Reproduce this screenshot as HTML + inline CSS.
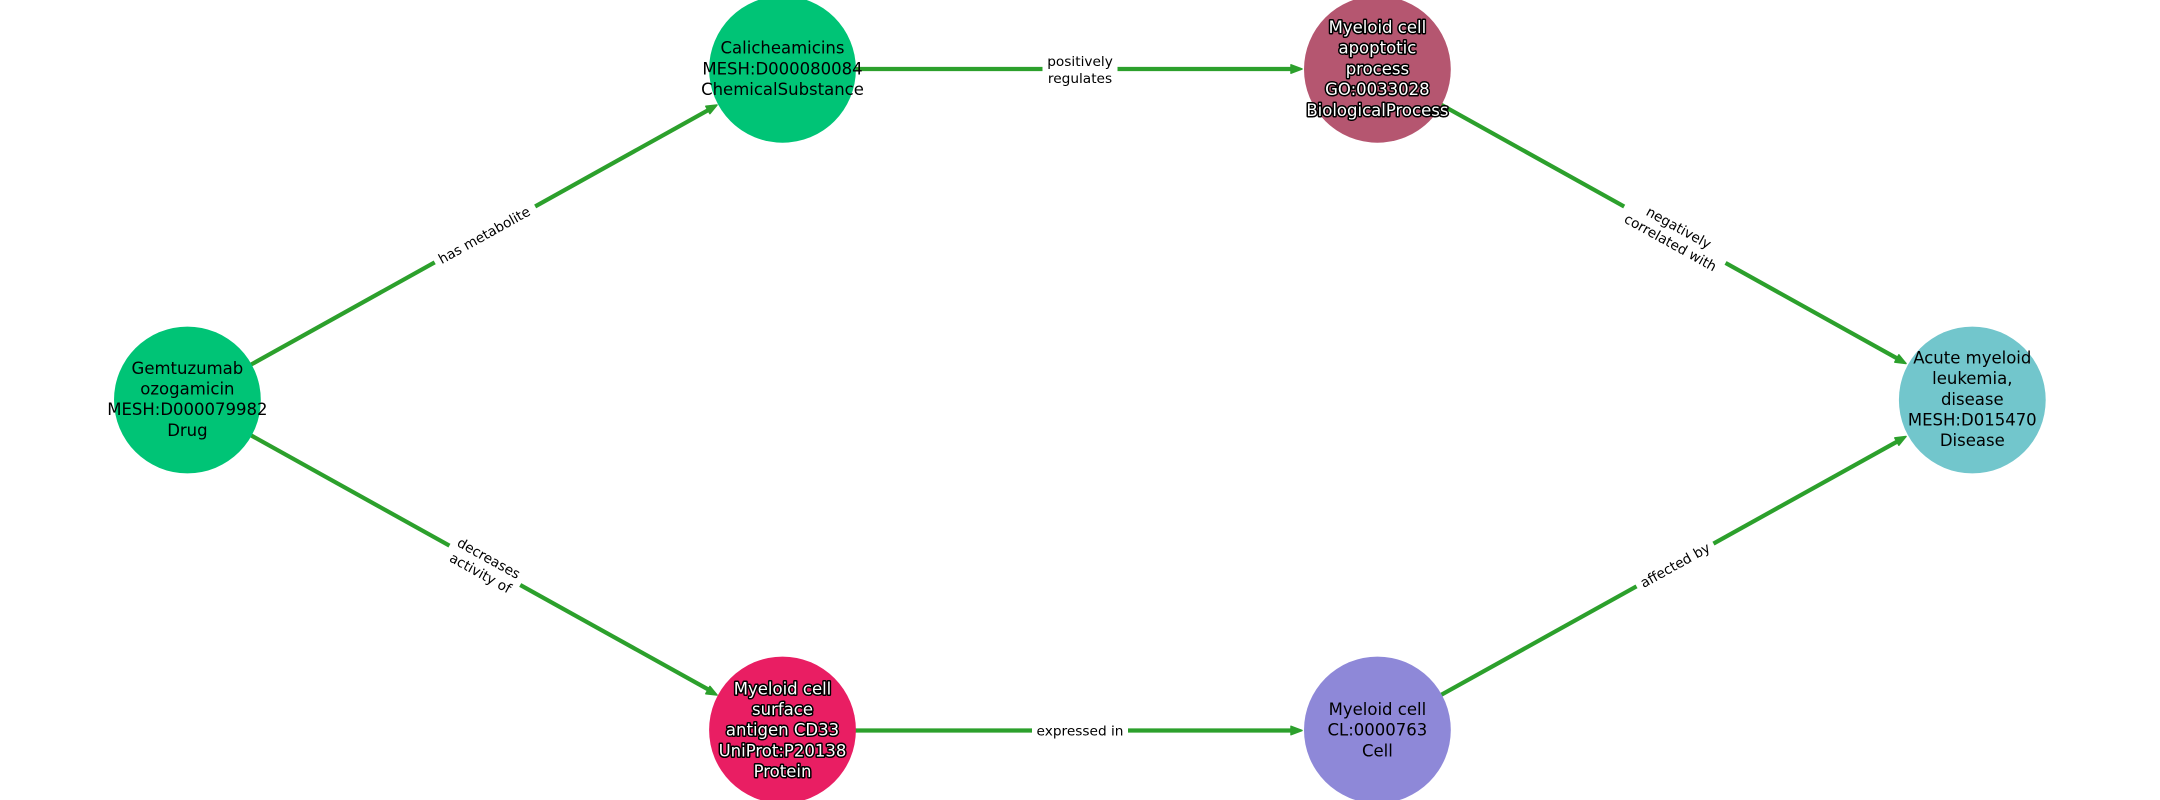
<!DOCTYPE html>
<html><head><meta charset="utf-8"><style>
html,body{margin:0;padding:0;background:#fff}
svg{display:block}
text{font-family:"DejaVu Sans",sans-serif;text-anchor:middle}
.n{font-size:16.5px;fill:#000}
.w{font-size:16.5px;fill:#fff;stroke:#000;stroke-width:3px;paint-order:stroke;stroke-linejoin:round}
.e{font-size:13.7px;fill:#000}
.l{stroke:#2ca02c;stroke-width:4.2;fill:none}
.a{fill:#2ca02c;stroke:#2ca02c;stroke-width:1.5;stroke-linejoin:round}
</style></head><body>
<svg width="2160" height="800" viewBox="0 0 2160 800" xmlns="http://www.w3.org/2000/svg">
<rect width="2160" height="800" fill="#fff"/>
<line class="l" x1="187.4" y1="400" x2="711" y2="108.6"/>
<line class="l" x1="187.4" y1="400" x2="711" y2="691"/>
<line class="l" x1="783" y1="69" x2="1295" y2="69"/>
<line class="l" x1="783" y1="730.5" x2="1295" y2="730.5"/>
<line class="l" x1="1377" y1="69" x2="1900" y2="360"/>
<line class="l" x1="1377" y1="730.5" x2="1900" y2="440"/>
<polygon class="a" points="717,105 705.8,106.3 709.9,113.6"/>
<polygon class="a" points="717,695 705.8,693.7 709.9,686.4"/>
<polygon class="a" points="1302,69 1291,64.8 1291,73.2"/>
<polygon class="a" points="1302,730.5 1291,726.3 1291,734.7"/>
<polygon class="a" points="1906,363.5 1898.9,354.8 1894.8,362.1"/>
<polygon class="a" points="1906,436.5 1894.8,437.9 1898.9,445.2"/>
<circle cx="187.4" cy="400" r="73.4" fill="#00c476"/>
<circle cx="782.5" cy="69.3" r="73.4" fill="#00c476"/>
<circle cx="1377.4" cy="69.3" r="73.4" fill="#b55670"/>
<circle cx="1972.3" cy="400" r="73.4" fill="#72c6cc"/>
<circle cx="782.5" cy="730" r="73.4" fill="#e91e63"/>
<circle cx="1377.4" cy="730" r="73.4" fill="#8e88d8"/>
<g class="n">
<text x="187.4" y="373.8">Gemtuzumab</text><text x="187.4" y="394.5">ozogamicin</text><text x="187.4" y="415.2">MESH:D000079982</text><text x="187.4" y="435.9">Drug</text>
<text x="782.5" y="53.6">Calicheamicins</text><text x="782.5" y="74.3">MESH:D000080084</text><text x="782.5" y="95">ChemicalSubstance</text>
<text x="1377.4" y="715">Myeloid cell</text><text x="1377.4" y="735.7">CL:0000763</text><text x="1377.4" y="756.4">Cell</text>
<text x="1972.3" y="363.4">Acute myeloid</text><text x="1972.3" y="384.1">leukemia,</text><text x="1972.3" y="404.8">disease</text><text x="1972.3" y="425.5">MESH:D015470</text><text x="1972.3" y="446.2">Disease</text>
</g>
<g class="w">
<text x="1377.4" y="33">Myeloid cell</text><text x="1377.4" y="53.7">apoptotic</text><text x="1377.4" y="74.4">process</text><text x="1377.4" y="95.1">GO:0033028</text><text x="1377.4" y="115.8">BiologicalProcess</text>
<text x="782.5" y="694.3">Myeloid cell</text><text x="782.5" y="715">surface</text><text x="782.5" y="735.7">antigen CD33</text><text x="782.5" y="756.4">UniProt:P20138</text><text x="782.5" y="777.1">Protein</text>
</g>
<g transform="translate(485 234.5) rotate(-29.05)"><rect x="-57.5" y="-10" width="115" height="20" fill="#fff"/><text class="e" x="-1" y="5">has metabolite</text></g>
<g transform="translate(485 565) rotate(29.05)"><rect x="-40.5" y="-20" width="81" height="40" fill="#fff"/><text class="e" y="-3">decreases</text><text class="e" y="14">activity of</text></g>
<g transform="translate(1080 69)"><rect x="-37.5" y="-20" width="75" height="40" fill="#fff"/><text class="e" y="-3">positively</text><text class="e" y="14">regulates</text></g>
<g transform="translate(1080 730.5)"><rect x="-48" y="-10" width="96" height="20" fill="#fff"/><text class="e" y="5">expressed in</text></g>
<g transform="translate(1675 234.5) rotate(29.05)"><rect x="-58" y="-20" width="116" height="40" fill="#fff"/><text class="e" y="-3">negatively</text><text class="e" y="14">correlated with</text></g>
<g transform="translate(1675 565) rotate(-29.05)"><rect x="-44" y="-10" width="88" height="20" fill="#fff"/><text class="e" y="5">affected by</text></g>
</svg>
</body></html>
